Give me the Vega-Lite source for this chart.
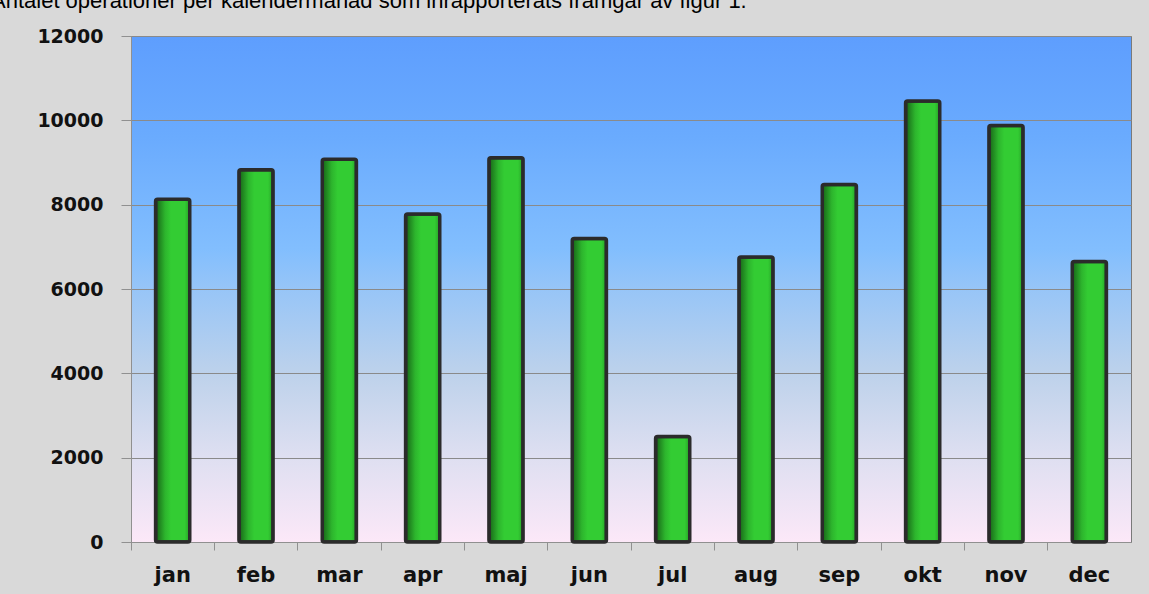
{
  "$schema": "https://vega.github.io/schema/vega-lite/v6.json",
  "autosize": "none",
  "width": 1000,
  "height": 506,
  "padding": {"left": 131, "top": 36, "right": 18, "bottom": 52},
  "background": "#d9d9d9",
  "title": {
    "text": "Antalet operationer per kalendermånad som inrapporterats framgår av figur 1.",
    "anchor": "start",
    "frame": "group",
    "orient": "top",
    "baseline": "alphabetic",
    "offset": 14,
    "dy": 17,
    "dx": -140,
    "font": "Liberation Sans",
    "fontSize": 22,
    "fontWeight": "normal",
    "color": "#000000"
  },
  "data": {
    "values": [
      {"month": "jan", "count": 8130},
      {"month": "feb", "count": 8830},
      {"month": "mar", "count": 9080},
      {"month": "apr", "count": 7780},
      {"month": "maj", "count": 9110},
      {"month": "jun", "count": 7200},
      {"month": "jul", "count": 2500},
      {"month": "aug", "count": 6760},
      {"month": "sep", "count": 8480},
      {"month": "okt", "count": 10460},
      {"month": "nov", "count": 9880},
      {"month": "dec", "count": 6650}
    ]
  },
  "mark": {
    "type": "bar",
    "width": {"band": 0.41},
    "stroke": "#2b2b2b",
    "strokeWidth": 3.5,
    "cornerRadius": 2,
    "fill": {
      "gradient": "linear",
      "x1": 0, "y1": 0, "x2": 1, "y2": 0,
      "stops": [
        {"offset": 0, "color": "#176317"},
        {"offset": 0.28, "color": "#2db52d"},
        {"offset": 0.45, "color": "#33cc33"},
        {"offset": 0.85, "color": "#33cc33"},
        {"offset": 1, "color": "#26a026"}
      ]
    }
  },
  "encoding": {
    "x": {
      "field": "month",
      "type": "nominal",
      "sort": null,
      "scale": {"paddingInner": 0, "paddingOuter": 0},
      "axis": {
        "title": null,
        "labelAngle": 0,
        "bandPosition": 0,
        "tickSize": 8,
        "tickColor": "#909090",
        "domainColor": "#909090",
        "labelPadding": 14,
        "labelFont": "DejaVu Sans",
        "labelFontWeight": "bold",
        "labelFontSize": 21,
        "labelColor": "#111111",
        "grid": false
      }
    },
    "y": {
      "field": "count",
      "type": "quantitative",
      "scale": {"domain": [0, 12000], "nice": false},
      "axis": {
        "title": null,
        "format": "d",
        "values": [0, 2000, 4000, 6000, 8000, 10000, 12000],
        "tickSize": 10,
        "tickColor": "#909090",
        "domainColor": "#909090",
        "labelPadding": 18,
        "labelFont": "DejaVu Sans",
        "labelFontWeight": "bold",
        "labelFontSize": 19,
        "labelColor": "#111111",
        "grid": true,
        "gridColor": "#8a8a8a",
        "gridWidth": 1
      }
    }
  },
  "config": {
    "view": {
      "stroke": "#7a7a7a",
      "strokeWidth": 1,
      "fill": {
        "gradient": "linear",
        "x1": 0, "y1": 0, "x2": 0, "y2": 1,
        "stops": [
          {"offset": 0, "color": "#5e9efe"},
          {"offset": 0.2, "color": "#6aabfe"},
          {"offset": 0.42, "color": "#82befe"},
          {"offset": 0.5, "color": "#97c5f7"},
          {"offset": 0.67, "color": "#bed2eb"},
          {"offset": 0.83, "color": "#dedff1"},
          {"offset": 1, "color": "#fce8f8"}
        ]
      }
    }
  }
}
